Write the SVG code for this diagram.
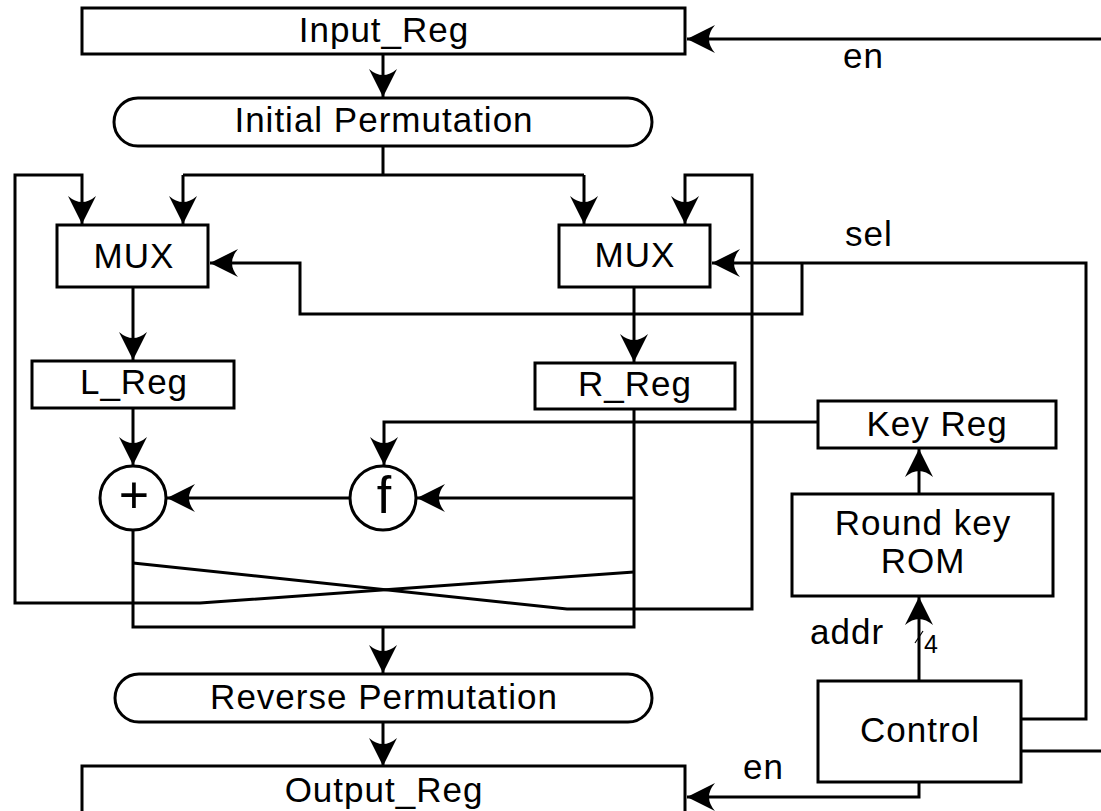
<svg xmlns="http://www.w3.org/2000/svg" width="1101" height="811" viewBox="0 0 1101 811">
<style>
.b{fill:#fff;stroke:#000;stroke-width:3}
.c{fill:none;stroke:#000;stroke-width:3}
.t{font-family:"Liberation Sans",Arial,sans-serif;font-size:35px;letter-spacing:1px;fill:#000;text-anchor:middle}
.l{font-family:"Liberation Sans",Arial,sans-serif;font-size:35px;letter-spacing:1px;fill:#000}
.s{font-family:"Liberation Sans",Arial,sans-serif;font-size:25px;fill:#000}
.o{font-family:"Liberation Sans",Arial,sans-serif;font-size:52px;fill:#000;text-anchor:middle}
</style>
<defs>
<marker id="a" markerUnits="userSpaceOnUse" markerWidth="30" markerHeight="30" refX="28" refY="14" orient="auto" overflow="visible">
<path d="M28,14 L0,0 Q12,14 0,28 Z" fill="#000"/>
</marker>
</defs>
<g id="connectors">
<path class="c" d="M1101,39 L687,39" marker-end="url(#a)"/>
<path class="c" d="M383,54 L383,97" marker-end="url(#a)"/>
<path class="c" d="M383,146 L383,175 M183,175 L584,175"/>
<path class="c" d="M183,175 L183,224" marker-end="url(#a)"/>
<path class="c" d="M584,175 L584,224" marker-end="url(#a)"/>
<path class="c" d="M634,572 L200,603 L15,603 L15,175 L82,175 L82,224" marker-end="url(#a)"/>
<path class="c" d="M133,563 L567,609 L752,609 L752,175 L685,175 L685,224" marker-end="url(#a)"/>
<path class="c" d="M1021,719 L1086,719 L1086,263 L712,263" marker-end="url(#a)"/>
<path class="c" d="M802,263 L802,314 L300,314 L300,263 L210,263" marker-end="url(#a)"/>
<path class="c" d="M133,287 L133,360" marker-end="url(#a)"/>
<path class="c" d="M634,287 L634,362" marker-end="url(#a)"/>
<path class="c" d="M133,408 L133,465" marker-end="url(#a)"/>
<path class="c" d="M634,409 L634,627 L133,627 L133,530"/>
<path class="c" d="M634,498 L417,498" marker-end="url(#a)"/>
<path class="c" d="M350,498 L167,498" marker-end="url(#a)"/>
<path class="c" d="M818,422 L384,422 L384,465" marker-end="url(#a)"/>
<path class="c" d="M383,627 L383,673" marker-end="url(#a)"/>
<path class="c" d="M383,722 L383,766" marker-end="url(#a)"/>
<path class="c" d="M919,494 L919,449" marker-end="url(#a)"/>
<path class="c" d="M919,681 L919,597" marker-end="url(#a)"/>
<path d="M915,643 L923,631" stroke="#000" stroke-width="1.2"/>
<path class="c" d="M919,782 L919,797 L687,797" marker-end="url(#a)"/>
<path class="c" d="M1021,751 L1101,751"/>
<text class="l" x="843" y="68">en</text>
<text class="l" x="845" y="246">sel</text>
<text class="l" x="810" y="644">addr</text>
<text class="s" x="924" y="653">4</text>
<text class="l" x="743" y="779">en</text>
</g>
<g id="input_reg"><rect class="b" x="82" y="8" width="603" height="46"/><text class="t" x="384" y="42">Input_Reg</text></g>
<g id="initial_perm"><rect class="b" x="114" y="98" width="538" height="48" rx="24" ry="24"/><text class="t" x="384" y="132">Initial Permutation</text></g>
<g id="mux_l"><rect class="b" x="57" y="225" width="151" height="62"/><text class="t" x="134" y="268">MUX</text></g>
<g id="mux_r"><rect class="b" x="559" y="225" width="151" height="62"/><text class="t" x="635" y="267">MUX</text></g>
<g id="l_reg"><rect class="b" x="32" y="361" width="202" height="47"/><text class="t" x="134" y="394">L_Reg</text></g>
<g id="r_reg"><rect class="b" x="535" y="363" width="200" height="46"/><text class="t" x="635" y="396">R_Reg</text></g>
<g id="key_reg"><rect class="b" x="818" y="401" width="238" height="47"/><text class="t" x="937" y="436">Key Reg</text></g>
<g id="xor"><ellipse class="b" cx="133" cy="498" rx="33" ry="32"/><text class="o" x="134" y="513">+</text></g>
<g id="f"><ellipse class="b" cx="383" cy="498" rx="33" ry="32"/><text class="o" x="384" y="513">f</text></g>
<g id="rom"><rect class="b" x="792" y="494" width="261" height="102"/><text class="t" x="923" y="535">Round key</text><text class="t" x="923" y="573">ROM</text></g>
<g id="control"><rect class="b" x="818" y="681" width="203" height="101"/><text class="t" x="920" y="742">Control</text></g>
<g id="reverse_perm"><rect class="b" x="115" y="674" width="537" height="48" rx="24" ry="24"/><text class="t" x="384" y="709">Reverse Permutation</text></g>
<g id="output_reg"><rect class="b" x="82" y="766" width="603" height="60"/><text class="t" x="384" y="802">Output_Reg</text></g>
</svg>
